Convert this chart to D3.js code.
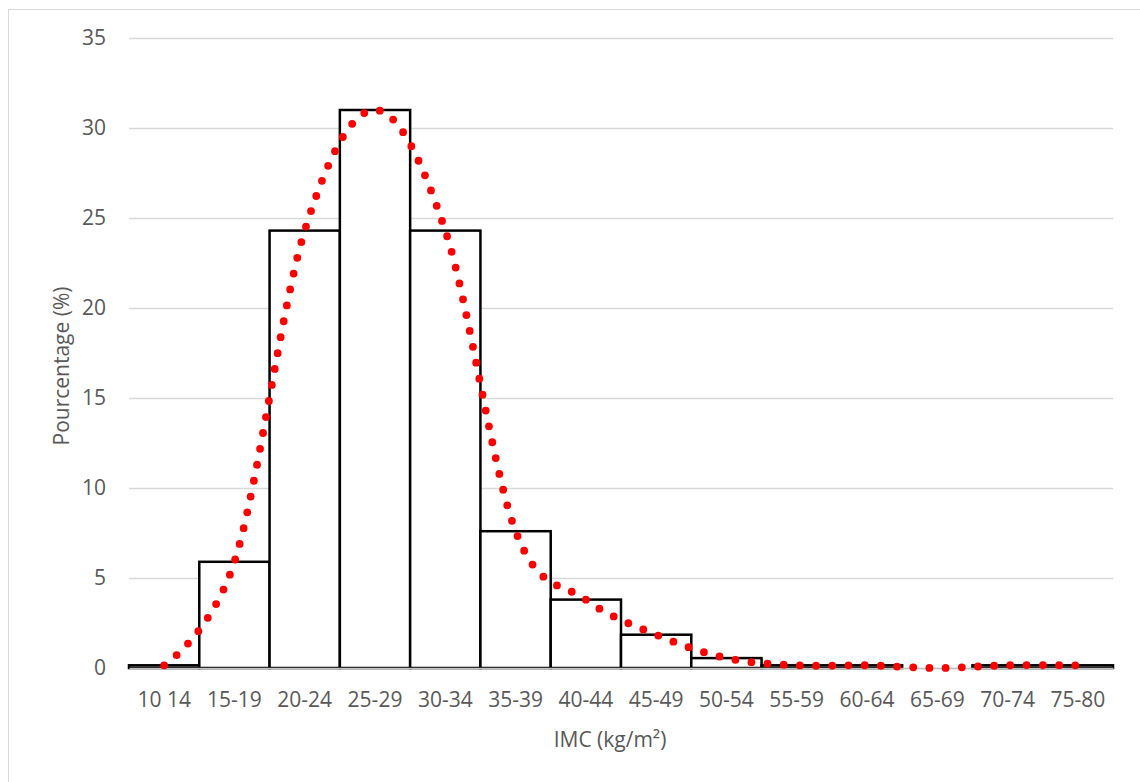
<!DOCTYPE html>
<html>
<head>
<meta charset="utf-8">
<script src="https://cdn.jsdelivr.net/npm/d3@7"></script>
<style>
  body { margin: 0; background: #fff; }
  svg text { font-family: "Open Sans", sans-serif; fill: #595959; }
</style>
</head>
<body>
<div id="root"></div>
<script>
// IMC classes and share of people (%) in each
const categories = ["10 14", "15-19", "20-24", "25-29", "30-34", "35-39", "40-44",
    "45-49", "50-54", "55-59", "60-64", "65-69", "70-74", "75-80"];
const percentages = [0.15, 5.9, 24.3, 31.0, 24.3, 7.6, 3.8, 1.85, 0.55, 0.15, 0.15, 0, 0.15, 0.15];
const yTicks = [0, 5, 10, 15, 20, 25, 30, 35];

const w = 1140;
const h = 782;
const margin = {
    top: 38, bottom: 114, left: 129, right: 27
};
const fontSize = 21;

const svg = d3.select("#root")
    .append("svg")
    .attr("width", w)
    .attr("height", h);

// chart area border
svg.append("rect")
    .attr("x", 8.5)
    .attr("y", 9.5)
    .attr("width", w + 20)
    .attr("height", h + 20)
    .attr("fill", "none")
    .attr("stroke", "#d9d9d9")
    .attr("stroke-width", 1);

const xScale = d3.scaleBand()
    .domain(categories)
    .range([margin.left, w - margin.right])
    .padding(0);

const yScale = d3.scaleLinear()
    .domain([0, 35])
    .range([h - margin.bottom, margin.top]);

// y-axis with gridlines
const yAxis = d3.axisLeft(yScale)
    .tickValues(yTicks)
    .tickSize(-(w - margin.left - margin.right))
    .tickPadding(23);
const yG = svg.append("g")
    .attr("id", "y-axis")
    .attr("transform", "translate(" + margin.left + ",0)")
    .call(yAxis);
yG.select(".domain").remove();
yG.selectAll(".tick line")
    .attr("stroke", "#d9d9d9")
    .attr("stroke-width", 1.3);
yG.selectAll(".tick text")
    .style("font-size", fontSize + "px")
    .attr("fill", "#595959");

// bars (histogram, no gap)
svg.append("g")
    .selectAll("rect")
    .data(percentages)
    .enter()
    .append("rect")
    .attr("x", (d, i) => xScale(categories[i]))
    .attr("y", d => yScale(d))
    .attr("width", xScale.bandwidth())
    .attr("height", d => yScale(0) - yScale(d))
    .attr("fill", "#fff")
    .attr("stroke", "#000")
    .attr("stroke-width", 2.5);

// x-axis
const xAxis = d3.axisBottom(xScale)
    .tickSize(0)
    .tickPadding(24);
const xG = svg.append("g")
    .attr("id", "x-axis")
    .attr("transform", "translate(0," + (h - margin.bottom) + ")")
    .call(xAxis);
xG.select(".domain")
    .attr("stroke", "#bfbfbf")
    .attr("stroke-width", 1.3);
xG.selectAll(".tick text")
    .style("font-size", fontSize + "px")
    .attr("fill", "#595959");

// smoothed dotted curve through the bar tops
const line = d3.line()
    .x((d, i) => xScale(categories[i]) + xScale.bandwidth() / 2)
    .y(d => yScale(d))
    .curve(d3.curveCatmullRom.alpha(0));
svg.append("path")
    .datum(percentages)
    .attr("d", line)
    .attr("fill", "none")
    .attr("stroke", "#ff0000")
    .attr("stroke-width", 7.8)
    .attr("stroke-linecap", "round")
    .attr("stroke-dasharray", "0 16.2");

// axis titles
svg.append("text")
    .attr("x", 610)
    .attr("y", 747)
    .attr("text-anchor", "middle")
    .style("font-size", fontSize + "px")
    .text("IMC (kg/m²)");

svg.append("text")
    .attr("transform", "translate(69,366) rotate(-90)")
    .attr("text-anchor", "middle")
    .style("font-size", fontSize + "px")
    .text("Pourcentage (%)");
</script>
</body>
</html>
